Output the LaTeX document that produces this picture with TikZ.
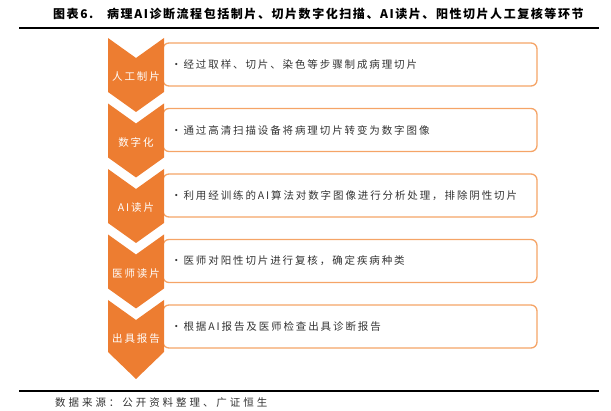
\documentclass[tikz,border=0pt]{standalone}
\usepackage{fontspec}
\setmainfont{Noto Sans CJK SC}
\newfontfamily\cjk{Noto Sans CJK SC}
\newfontfamily\cjkwide[LetterSpace=18]{Noto Sans CJK SC}
\newfontfamily\cjksrc[LetterSpace=28]{Noto Sans CJK SC}
\newfontfamily\cjktitle[LetterSpace=13]{Noto Sans CJK SC}
\definecolor{chev}{HTML}{ED7D31}
\definecolor{boxline}{HTML}{F5A467}
\definecolor{txt}{HTML}{333333}
\tikzset{
  chevron/.style={fill=chev,draw=none},
  stepboxnode/.style={draw=boxline,line width=1.3pt,rounded corners=6pt,minimum width=374pt,minimum height=43pt,inner sep=0pt},
  boxtext/.style={anchor=west,text=txt,font=\cjkwide\fontsize{10.5}{12}\selectfont,inner sep=0pt},
  chevlabel/.style={text=white,font=\cjkwide\fontsize{10.5}{12}\selectfont,inner sep=0pt},
  rule/.style={line width=1.8pt,black}
}
\begin{document}
\begin{tikzpicture}[x=1pt,y=-1pt]
\useasboundingbox (0,0) rectangle (611,411);
% title
\node[anchor=west,inner sep=0pt,font=\cjktitle\bfseries\fontsize{12}{14}\selectfont] (t1) at (53,14) {图表6.};
\node[anchor=west,inner sep=0pt,font=\cjktitle\bfseries\fontsize{12}{14}\selectfont] (t2) at (107,14) {病理AI诊断流程包括制片、切片数字化扫描、AI读片、阳性切片人工复核等环节};
\coordinate (r1a) at (19,28);
\coordinate (r1b) at (599,28);
\draw[rule] (r1a) -- (r1b);
% boxes
\foreach \k/\txt in {0/{•经过取样、切片、染色等步骤制成病理切片},
                     1/{•通过高清扫描设备将病理切片转变为数字图像},
                     2/{•利用经训练的AI算法对数字图像进行分析处理，排除阴性切片},
                     3/{•医师对阳性切片进行复核，确定疾病种类},
                     4/{•根据AI报告及医师检查出具诊断报告}}{
  \node[stepboxnode] (b\k) at (350,64.5+65.5*\k) {};
  \node[boxtext] (bt\k) at (171,64.5+65.5*\k) {\txt};
}
% chevrons
\foreach \k in {0,1,2,3}{
  \pgfmathsetmacro{\t}{38+65.5*\k}
  \fill[chevron] (108,\t) -- (136,\t+20) -- (164,\t) -- (164,\t+54) -- (136,\t+74) -- (108,\t+54) -- cycle;
}
\fill[chevron] (108,300) -- (136,320) -- (164,300) -- (164,352) -- (136,379) -- (108,352) -- cycle;
% chevron labels
\foreach \k/\lab in {0/人工制片,1/数字化,2/AI读片,3/医师读片,4/出具报告}{
  \node[chevlabel] (c\k) at (136,77+65.5*\k) {\lab};
}
% bottom rule and source
\coordinate (r2a) at (19,391);
\coordinate (r2b) at (599,391);
\draw[rule] (r2a) -- (r2b);
\node[anchor=west,inner sep=0pt,text=txt,font=\cjksrc\fontsize{10.5}{12}\selectfont] (src) at (55,403) {数据来源：公开资料整理、广证恒生};
\end{tikzpicture}
\end{document}
